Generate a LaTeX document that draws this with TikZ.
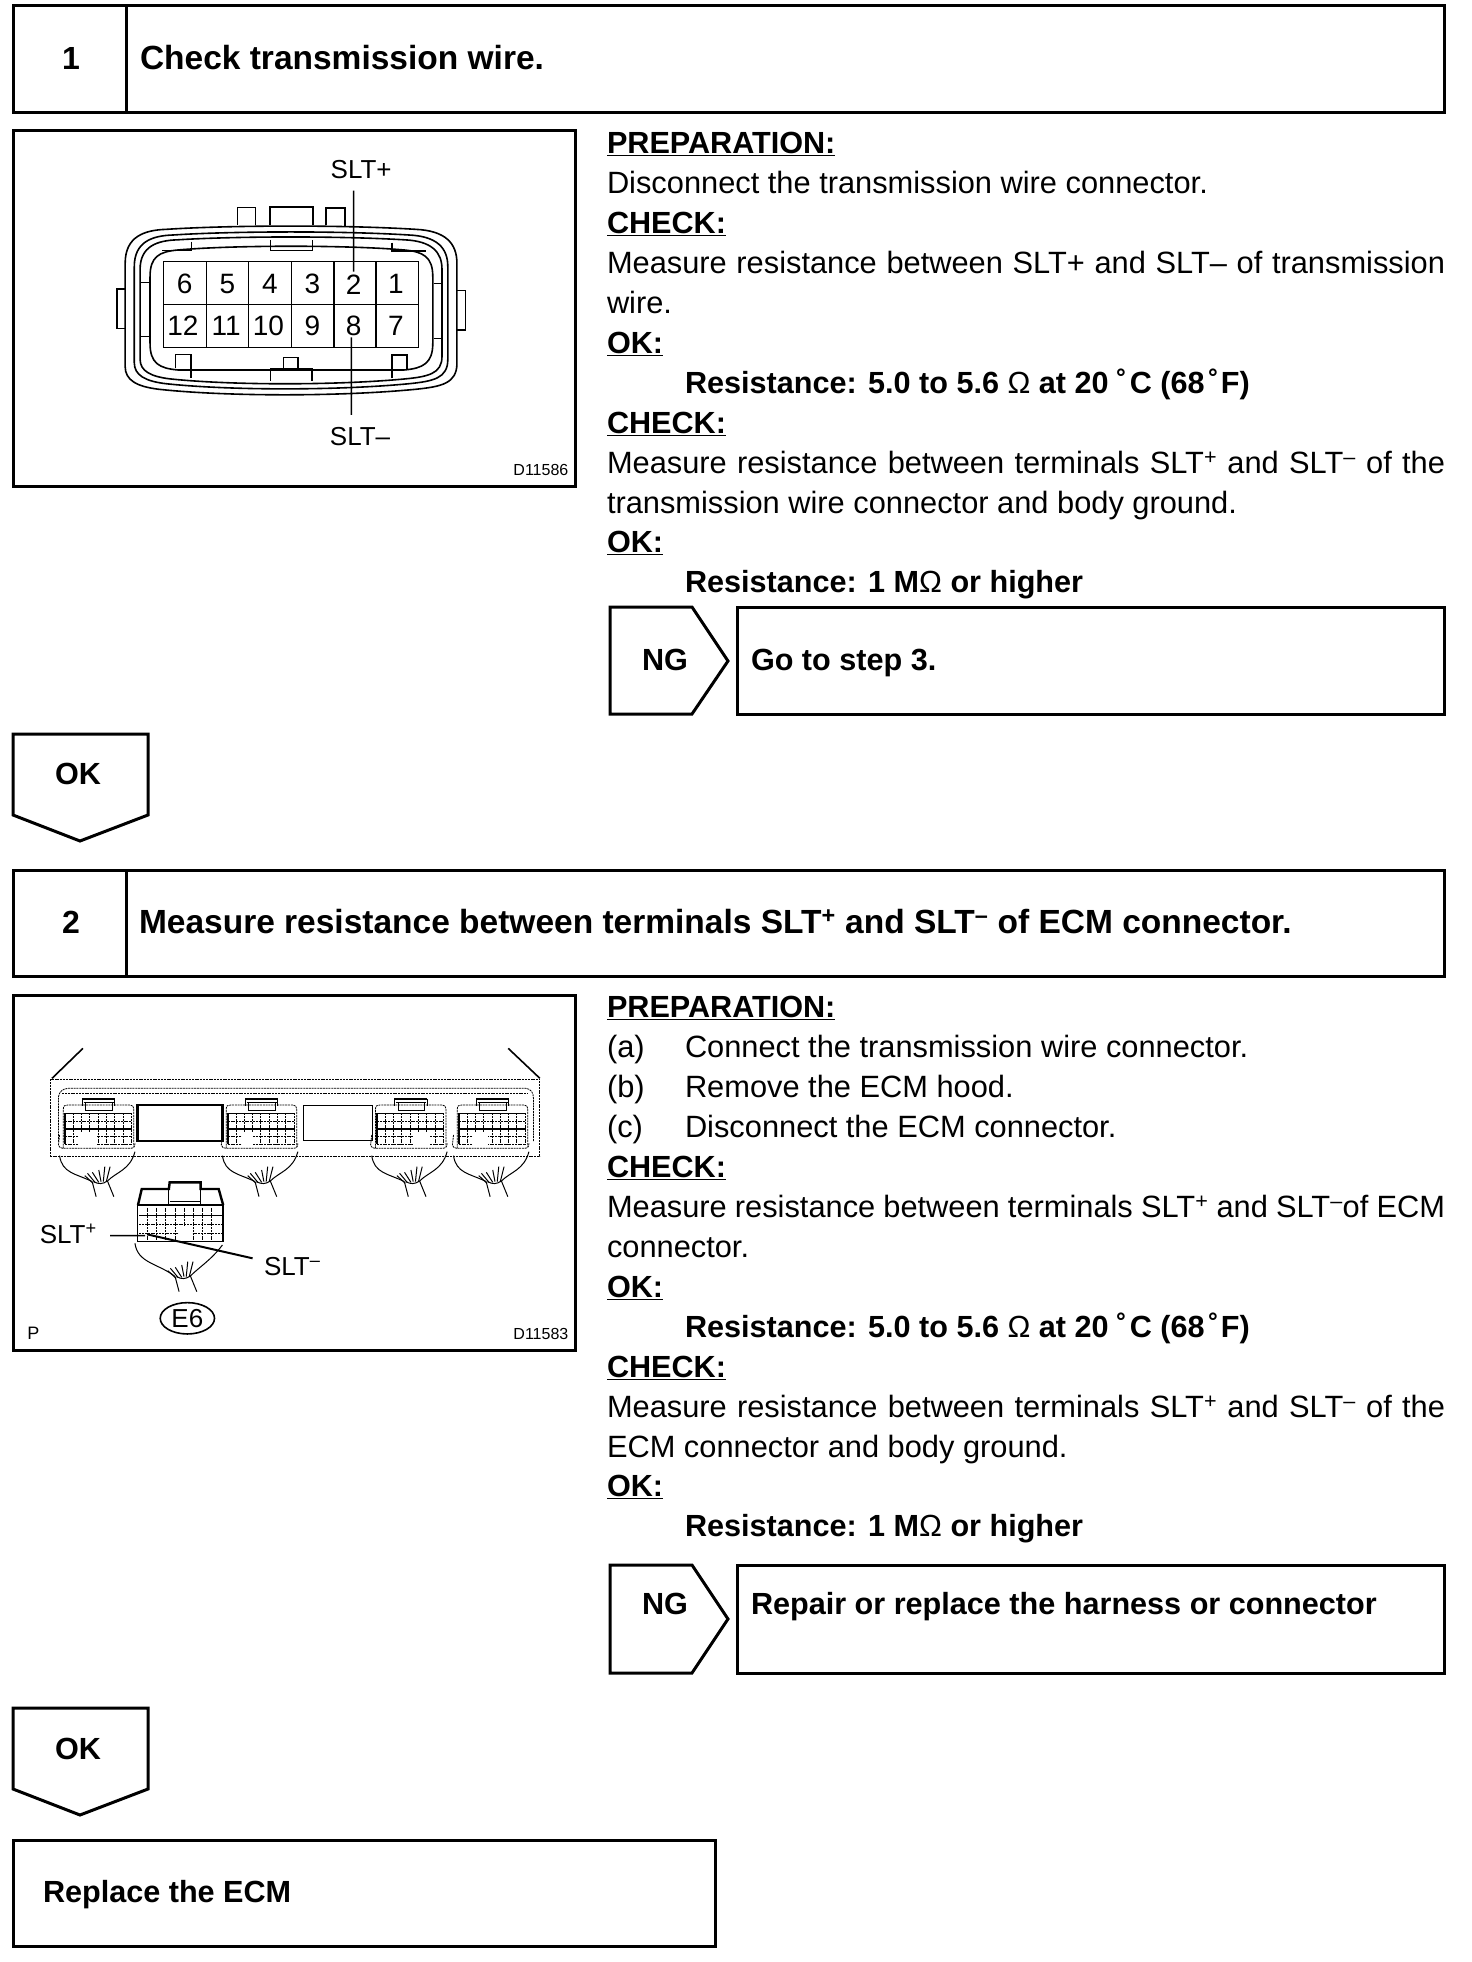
\documentclass[tikz,border=0pt]{standalone}
\usepackage{fontspec}
\setmainfont{Liberation Sans}
\usetikzlibrary{calc}
\newcommand{\fsz}[1]{\fontsize{#1}{#1}\selectfont}
\newcommand{\jline}[1]{\makebox[838pt][s]{#1}}
\newcommand{\ssup}[1]{\textsuperscript{#1}}
\newcommand{\dgra}{\hspace{8pt}˚\hspace{3pt}}
\newcommand{\dgrb}{\hspace{4pt}˚\hspace{2pt}}
\tikzset{
  x=1pt,y=-1pt,
  box/.style={draw=black,line width=3pt,line join=miter},
  body/.style={anchor=base west,inner sep=0pt,outer sep=0pt,yshift=.4pt,font=\fsz{30.8}},
  bbody/.style={anchor=base west,inner sep=0pt,outer sep=0pt,yshift=.4pt,font=\fsz{30.6}\bfseries},
  head/.style={anchor=base west,inner sep=0pt,outer sep=0pt,font=\fsz{33.5}\bfseries},
  num/.style={anchor=center,inner sep=0pt,font=\fsz{32}\bfseries},
  tag/.style={anchor=center,inner sep=0pt,font=\fsz{30.6}\bfseries},
  lab/.style={anchor=center,inner sep=0pt,font=\fsz{26}},
  code/.style={anchor=base east,inner sep=0pt,font=\fsz{16}},
  cellnum/.style={anchor=center,inner sep=0pt,font=\fsz{28}},
  thinl/.style={line width=1pt},
  medl/.style={line width=1.6pt},
  dotl/.style={line width=.8pt,dash pattern=on 2pt off .8pt},
  leader/.style={line width=1.6pt},
  figa/.style={shift={(0,120)},xscale=0.377,yscale=0.3333},
  figb/.style={shift={(0,985)},xscale=0.377,yscale=0.3333},
}
\newcommand{\shell}[2]{%
  \begin{scope}[shift={(772,570)},xscale=#1,yscale=#2]
  \draw[medl] (-440,170) -- (-440,-140) .. controls (-440,-220) and (-390,-240) .. (-330,-242)
    .. controls (-170,-254) and (130,-256) .. (330,-242) .. controls (410,-238) and (440,-200) .. (440,-140)
    -- (440,160) .. controls (440,220) and (400,230) .. (330,238) .. controls (130,260) and (-170,260) .. (-350,238)
    .. controls (-410,230) and (-440,210) .. (-440,170) -- cycle;
  \end{scope}}
\newcommand{\strands}{%
  \draw[thinl] (225,572) -- (247,595) (232,565) -- (252,592) (245,562) -- (262,592) (262,555) -- (268,590) (278,545) -- (274,590) (292,545) -- (282,590);
  \draw[thinl] (248,590) .. controls (262,598) and (272,598) .. (285,588);
  \draw[thinl] (245,592) -- (255,635) (285,588) -- (302,635);
}
\newcommand{\ecmconn}[3]{%
  \begin{scope}[shift={(#1,0)}]
  \draw[dotl] (168,490) -- (168,372) .. controls (168,362) and (172,360) .. (180,360) -- (345,360) .. controls (352,360) and (355,365) .. (355,372) -- (355,485);
  \draw[dotl] (158,450) -- (155,480) .. controls (158,488) and (160,490) .. (168,490) -- (345,490) .. controls (355,490) and (358,485) .. (358,475);
  \draw[medl] (218,342) -- (305,342) (222,352) -- (302,352);
  \draw[thinl] (218,342) -- (218,362) (305,342) -- (305,362) (228,352) -- (228,375) -- (298,375) -- (298,352);
  \draw[medl] (172,385) -- (172,478) (172,385) -- (348,385);
  \foreach \yy in {408,432,455,478} \draw[dotl] (172,\yy) -- (350,\yy);
  \draw[medl] (172,432) -- (350,432);
  \foreach \xx in {194,216,238,260,282,304,326,348} \draw[dotl] (\xx,385) -- (\xx,478);
  \fill[white] (#2,440) rectangle (#3,482);
  \draw[thinl] (158,512) .. controls (165,565) and (200,565) .. (245,590);
  \draw[thinl] (358,500) .. controls (345,555) and (310,560) .. (285,588);
  \strands
  \end{scope}}
\begin{document}
\begin{tikzpicture}
\useasboundingbox (0,0) rectangle (1472,1962);
\fill[white] (0,0) rectangle (1472,1962);

% --- Step 1 header
\draw[box] (13,5) rectangle (1444,112);
\draw[box] (126,5) -- (126,112);
\node[num] (n1) at (71,58) {1};
\node[head] (t1) at (140,69) {Check transmission wire.};

% --- Connector figure
\draw[box] (13,130) rectangle (575,486);
\begin{scope}[figa]
  \shell{1}{1}
  \shell{.945}{.93}
  \shell{.91}{.87}
  \begin{scope}[shift={(772,570)}]
  \draw[medl] (-374,-100) .. controls (-374,-160) and (-350,-175) .. (-300,-180) .. controls (-150,-195) and (150,-195) .. (300,-180) .. controls (350,-175) and (376,-160) .. (376,-100)
    -- (376,100) .. controls (376,160) and (350,175) .. (300,180) -- (-300,180) .. controls (-350,175) and (-374,160) .. (-374,100) -- cycle;
  \end{scope}
  % tabs
  \draw[medl] (630,315) -- (630,262) -- (678,262) -- (678,315);
  \draw[line width=2pt] (715,315) -- (715,260) -- (830,260) -- (830,315);
  \draw[line width=2pt] (865,315) -- (865,265) -- (915,265) -- (915,318);
  \draw[medl] (332,507) -- (310,507) -- (310,625) -- (332,625);
  \draw[medl] (1212,512) -- (1235,512) -- (1235,630) -- (1212,630);
  \draw[medl] (508,365) -- (508,392) -- (430,392);
  \draw[thinl] (718,360) -- (718,392) -- (830,392) -- (830,360);
  \draw[medl] (1040,368) -- (1040,393) -- (1130,393);
  \draw[medl] (465,745) -- (465,703) -- (507,703) -- (507,775);
  \draw[medl] (1040,775) -- (1040,705) -- (1080,705) -- (1080,748);
  \draw[medl] (718,783) -- (718,747) -- (828,747) -- (828,783);
  \draw[medl] (752,747) -- (752,713) -- (790,713) -- (790,747);
  \draw[medl] (375,487) -- (398,487) (375,650) -- (398,650) (1150,490) -- (1170,490) (1150,655) -- (1170,655);
  % grid
  \fill[white] (434,425) rectangle (1110,682);
  \draw[medl] (434,425) rectangle (1110,682);
  \draw[medl] (434,553) -- (1110,553);
  \foreach \xx in {547,660,772} \draw[thinl] (\xx,425) -- (\xx,682);
  \foreach \xx in {886,998} \draw[medl] (\xx,425) -- (\xx,682);
  \foreach \xx/\lb in {490/6,603/5,716/4,829/3,938/2,1050/1} \node[cellnum] (ct\lb) at (\xx,493) {\lb};
  \foreach \xx/\lb in {485/12,600/11,712/10,829/9,938/8,1050/7} \node[cellnum] (cb\lb) at (\xx,618) {\lb};
  \node[lab] (sltp) at (958,150) {SLT+};
  \node[lab] (sltm) at (955,950) {SLT–};
  \coordinate (sltpend) at (938,455);
  \coordinate (sltmend) at (932,652);
  \draw[leader] (sltpend) -- (938,212);
  \draw[leader] (sltmend) -- (932,885);
  \node[code] (c1) at (1508,1068) {D11586};
\end{scope}

% --- Step 1 text
\node[bbody] (a1) at (607,154) {\underline{PREPARATION:}};
\node[body] (a2) at (607,194) {Disconnect the transmission wire connector.};
\node[bbody] (a3) at (607,234) {\underline{CHECK:}};
\node[body] (a4) at (607,274) {\jline{Measure resistance between SLT+ and SLT– of transmission}};
\node[body] (a5) at (607,314) {wire.};
\node[bbody] (a6) at (607,354) {\underline{OK:}};
\node[bbody] (a7) at (685,394) {Resistance: 5.0 to 5.6 {\mdseries Ω} at 20\dgra C (68\dgrb F)};
\node[bbody] (a8) at (607,434) {\underline{CHECK:}};
\node[body] (a9) at (607,474) {\jline{Measure resistance between terminals SLT\ssup{+} and SLT\ssup{–} of the}};
\node[body] (a10) at (607,514) {transmission wire connector and body ground.};
\node[bbody] (a11) at (607,553) {\underline{OK:}};
\node[bbody] (a12) at (685,593) {Resistance: 1 M{\mdseries Ω} or higher};

% --- NG 1
\draw[box] (610,607) -- (692,607) -- (728,661) -- (692,714) -- (610,714) -- cycle;
\node[tag] (ng1) at (665,660) {NG};
\draw[box] (737,607) rectangle (1444,714);
\node[bbody] (go) at (751,671) {Go to step 3.};

% --- OK 1
\draw[box] (13,734) -- (148,734) -- (148,815) -- (80,841) -- (13,815) -- cycle;
\node[tag] (ok1) at (78,774) {OK};

% --- Step 2 header
\draw[box] (13,870) rectangle (1444,976);
\draw[box] (126,870) -- (126,976);
\node[num] (n2) at (71,922) {2};
\node[head] (t2) at (139,933) {Measure resistance between terminals SLT\ssup{+} and SLT\ssup{–} of ECM connector.};

% --- ECM figure
\draw[box] (13,995) rectangle (575,1350);
\begin{scope}[figb]
  \draw[dotl] (135,283) rectangle (1432,513);
  \draw[medl] (138,280) -- (220,190);
  \draw[medl] (1432,280) -- (1348,190);
  \draw[dotl] (155,470) -- (155,335) .. controls (158,320) and (165,312) .. (180,310) -- (1395,310) .. controls (1408,312) and (1415,322) .. (1415,340) -- (1415,470);
  \draw[dotl] (165,325) -- (1400,325);
  \draw[line width=2.4pt] (365,360) rectangle (590,468);
  \draw[thinl] (805,360) rectangle (988,468);
  \ecmconn{0}{210}{258}
  \ecmconn{432}{210}{240}
  \ecmconn{828}{268}{310}
  \ecmconn{1045}{210}{250}
  % small connector
  \draw[line width=2.4pt] (366,660) -- (376,612) -- (448,612) -- (450,592) -- (532,592) -- (532,612) -- (580,612) -- (592,660);
  \draw[thinl] (448,612) -- (448,660) (532,612) -- (532,660) (452,650) -- (530,650);
  \draw[medl] (365,660) rectangle (592,770);
  \foreach \yy in {692,718,744} \draw[dotl] (370,\yy) -- (588,\yy);
  \foreach \xx in {392,416,440,464,488,512,536,560} \draw[dotl] (\xx,668) -- (\xx,765);
  \fill[white] (475,722) rectangle (510,768);
  \draw[medl] (370,692) -- (588,692);
  \begin{scope}[shift={(220,285)}]
    \strands
  \end{scope}
  \draw[thinl] (358,775) .. controls (365,835) and (420,835) .. (465,875);
  \draw[thinl] (590,780) .. controls (560,825) and (530,845) .. (505,873);
  \node[lab,anchor=base west] (slp) at (105,775) {SLT\ssup{+}};
  \node[lab,anchor=base west] (slm) at (700,872) {SLT\ssup{–}};
  \coordinate (slpend) at (385,752);
  \coordinate (slmend) at (390,748);
  \draw[leader] (292,752) -- (slpend);
  \draw[line width=2pt] (slmend) -- (670,820);
  \draw[medl] (497,1000) ellipse [x radius=72,y radius=47];
  \node[lab] (e6) at (497,1000) {E6};
  \node[lab,anchor=base west,font=\fsz{18}] (pp) at (72,1065) {P};
  \node[code] (c2) at (1508,1065) {D11583};
\end{scope}

% --- Step 2 text
\node[bbody] (b1) at (607,1018) {\underline{PREPARATION:}};
\node[body] (b2) at (607,1058) {(a)};
\node[body] (b2t) at (685,1058) {Connect the transmission wire connector.};
\node[body] (b3) at (607,1098) {(b)};
\node[body] (b3t) at (685,1098) {Remove the ECM hood.};
\node[body] (b4) at (607,1138) {(c)};
\node[body] (b4t) at (685,1138) {Disconnect the ECM connector.};
\node[bbody] (b5) at (607,1178) {\underline{CHECK:}};
\node[body] (b6) at (607,1218) {\jline{Measure resistance between terminals SLT\ssup{+} and SLT\ssup{–}of ECM}};
\node[body] (b7) at (607,1258) {connector.};
\node[bbody] (b8) at (607,1298) {\underline{OK:}};
\node[bbody] (b9) at (685,1338) {Resistance: 5.0 to 5.6 {\mdseries Ω} at 20\dgra C (68\dgrb F)};
\node[bbody] (b10) at (607,1378) {\underline{CHECK:}};
\node[body] (b11) at (607,1418) {\jline{Measure resistance between terminals SLT\ssup{+} and SLT\ssup{–} of the}};
\node[body] (b12) at (607,1458) {ECM connector and body ground.};
\node[bbody] (b13) at (607,1497) {\underline{OK:}};
\node[bbody] (b14) at (685,1537) {Resistance: 1 M{\mdseries Ω} or higher};

% --- NG 2
\draw[box] (610,1565) -- (692,1565) -- (728,1619) -- (692,1673) -- (610,1673) -- cycle;
\node[tag] (ng2) at (665,1604) {NG};
\draw[box] (737,1565) rectangle (1444,1673);
\node[bbody] (rp) at (751,1615) {Repair or replace the harness or connector};

% --- OK 2
\draw[box] (13,1708) -- (148,1708) -- (148,1789) -- (80,1815) -- (13,1789) -- cycle;
\node[tag] (ok2) at (78,1749) {OK};

% --- Replace
\draw[box] (13,1840) rectangle (715,1946);
\node[bbody] (rc) at (43,1903) {Replace the ECM};
\end{tikzpicture}
\end{document}
